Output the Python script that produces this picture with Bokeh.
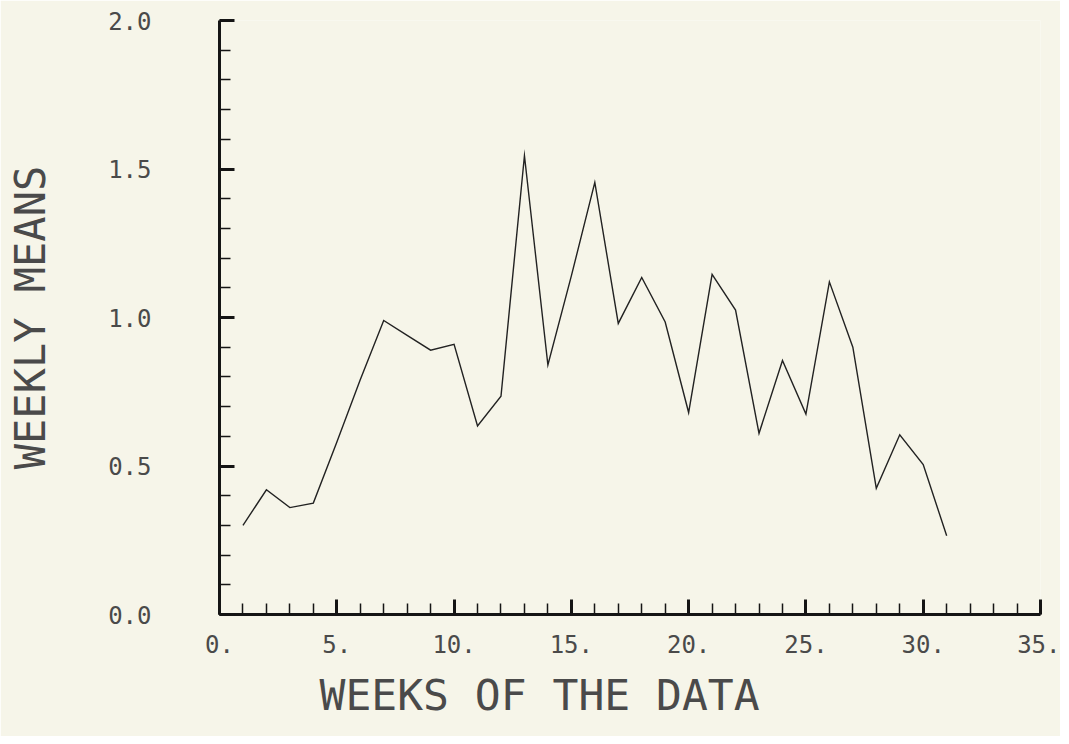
from bokeh.plotting import figure
from bokeh.models import Range1d, SingleIntervalTicker, PrintfTickFormatter, Title
from bokeh.embed import file_html
from bokeh.resources import INLINE

weeks = [1, 2, 3, 4, 5, 6, 7, 8, 9, 10, 11, 12, 13, 14, 15, 16,
         17, 18, 19, 20, 21, 22, 23, 24, 25, 26, 27, 28, 29, 30, 31]
weekly_means = [0.30, 0.42, 0.36, 0.375, 0.58, 0.79, 0.99, 0.94, 0.89, 0.91,
                0.635, 0.735, 1.545, 0.84, 1.14, 1.455, 0.98, 1.135, 0.985, 0.68,
                1.145, 1.025, 0.61, 0.855, 0.675, 1.12, 0.90, 0.425, 0.605, 0.505,
                0.265]
x_label = "WEEKS OF THE DATA"
y_label = "WEEKLY MEANS"

BG = "#f6f5e9"
INK = "#151515"
TXT = "#4a4a4a"
FONT = "DejaVu Sans Mono"

p = figure(width=1060, height=736, output_backend="svg", toolbar_location=None,
           x_range=Range1d(0, 35), y_range=Range1d(0, 2.0),
           min_border_left=219, min_border_right=20, min_border_top=20,
           min_border_bottom=122)
p.background_fill_color = BG
p.border_fill_color = BG
p.outline_line_color = None
p.grid.visible = False

p.line(weeks, weekly_means, line_color="#222222", line_width=1.4, line_join="miter")

for ax in (p.xaxis[0], p.yaxis[0]):
    ax.axis_line_width = 3
    ax.axis_line_color = INK
    ax.major_tick_in = 15
    ax.major_tick_out = 0
    ax.minor_tick_in = 11
    ax.minor_tick_out = 0
    ax.major_tick_line_width = 3
    ax.major_tick_line_color = INK
    ax.minor_tick_line_width = 1.5
    ax.minor_tick_line_color = INK
    ax.major_label_text_font = FONT
    ax.major_label_text_font_size = "24px"
    ax.major_label_text_color = TXT

p.xaxis[0].ticker = SingleIntervalTicker(interval=5, num_minor_ticks=5)
p.xaxis[0].formatter = PrintfTickFormatter(format="%d.")
p.xaxis[0].major_label_standoff = 20

p.yaxis[0].ticker = SingleIntervalTicker(interval=0.5, num_minor_ticks=5)
p.yaxis[0].formatter = PrintfTickFormatter(format="%.1f")
p.yaxis[0].major_label_standoff = 68
p.yaxis[0].axis_label = y_label
p.yaxis[0].axis_label_text_font = FONT
p.yaxis[0].axis_label_text_font_size = "42px"
p.yaxis[0].axis_label_text_font_style = "normal"
p.yaxis[0].axis_label_text_color = TXT
p.yaxis[0].axis_label_standoff = 50

xt = Title(text=x_label, align="left", offset=100, text_font=FONT,
           text_font_size="43px", text_font_style="normal", text_color=TXT,
           standoff=24)
p.add_layout(xt, "below")

open("out.html", "w").write(file_html(p, INLINE))
